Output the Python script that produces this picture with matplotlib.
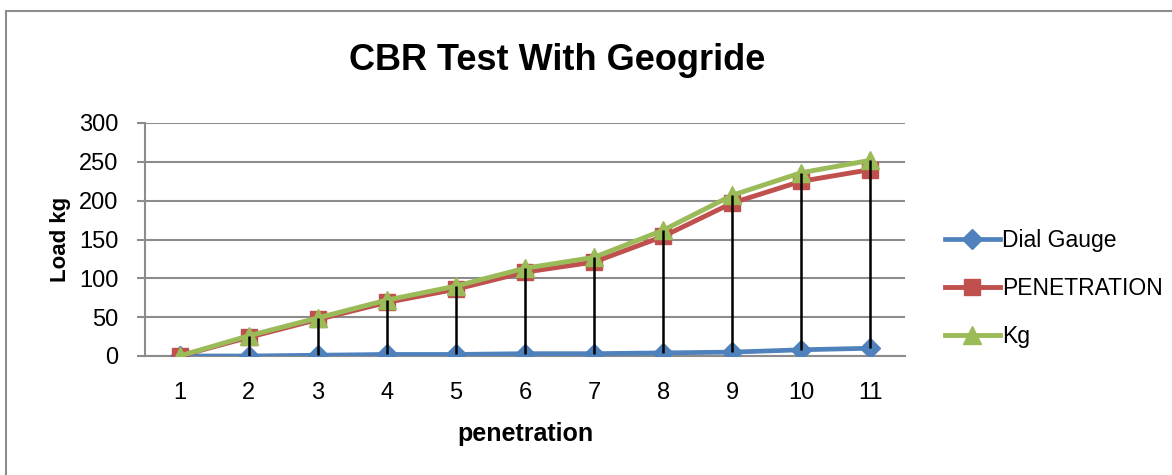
import matplotlib
matplotlib.use("Agg")
import matplotlib.pyplot as plt
from matplotlib.patches import Rectangle
import numpy as np

plt.rcParams['font.family'] = ['Liberation Sans', 'DejaVu Sans']

penetration = [1, 2, 3, 4, 5, 6, 7, 8, 9, 10, 11]
dial_gauge = [0, 0, 1, 2, 2, 3, 3, 4, 5, 8, 10]
pen_load = [0, 24, 47, 69, 86, 108, 121, 154, 197, 225, 240]
kg_load = [0, 26, 49, 72, 90, 113, 127, 162, 207, 236, 252]

blue = '#4F81BD'
red = '#C0504D'
green = '#9BBB59'

fig = plt.figure(figsize=(11.72, 4.75), dpi=100)
fig.patches.append(Rectangle((6/1172, -0.1), 1.2, 1 - 11/475 + 0.1, transform=fig.transFigure,
                             fill=False, edgecolor='#8c8c8c', linewidth=1.5))
ax = fig.add_axes([145/1172, 1 - 356/475, 760/1172, 233/475])

# high-low lines between the series
lo = np.minimum(np.minimum(dial_gauge, pen_load), kg_load)
hi = np.maximum(np.maximum(dial_gauge, pen_load), kg_load)
ax.vlines(penetration, lo, hi, colors='black', linewidth=1.8, zorder=5)

ax.plot(penetration, dial_gauge, color=blue, marker='D', markersize=10, linewidth=3.4,
        label='Dial Gauge', zorder=3)
ax.plot(penetration, pen_load, color=red, marker='s', markersize=12, linewidth=3.5,
        label='PENETRATION', zorder=3)
ax.plot(penetration, kg_load, color=green, marker='^', markersize=13, linewidth=3.5,
        label='Kg', zorder=4)

ax.set_xlim(0.5, 11.5)
ax.set_ylim(0, 300)
ax.set_yticks(range(0, 301, 50))
ax.set_xticks(penetration)
ax.grid(axis='y', color='#8c8c8c', linewidth=1.5)
ax.set_axisbelow(True)
for s in ['top', 'right']:
    ax.spines[s].set_visible(False)
for s in ['left', 'bottom']:
    ax.spines[s].set_color('#8c8c8c')
    ax.spines[s].set_linewidth(1.5)
ax.tick_params(axis='y', length=6, width=1.5, color='#8c8c8c', labelsize=17, pad=13)
ax.tick_params(axis='x', length=0, labelsize=17, pad=18.5)

ax.set_xlabel('penetration', fontsize=18, fontweight='bold', labelpad=13)
ax.set_ylabel('Load kg', fontsize=16, fontweight='bold', labelpad=6)
fig.text(557/1172, 1 - 60/475, 'CBR Test With Geogride', fontsize=26, fontweight='bold',
         ha='center', va='center')

ax.legend(loc='center left', bbox_to_anchor=(1.04, 0.29), frameon=False, fontsize=16.5,
          handlelength=2.4, labelspacing=1.1, handletextpad=0.1, borderaxespad=0)

fig.savefig('out.png', dpi=100)
